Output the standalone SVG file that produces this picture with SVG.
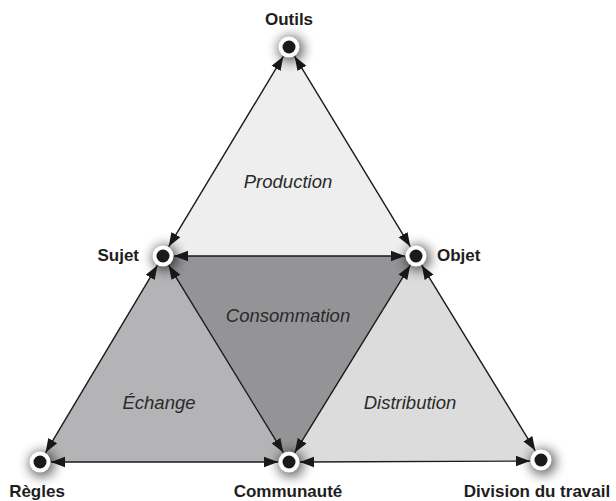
<svg xmlns="http://www.w3.org/2000/svg" width="616" height="501" viewBox="0 0 616 501">
<style>
.lbl{font-family:"Liberation Sans",Arial,sans-serif;font-weight:bold;font-size:17px;fill:#1e1e1e}
.it{font-family:"Liberation Sans",Arial,sans-serif;font-style:italic;font-size:18.5px;fill:#2a2a2a;text-anchor:middle}
.edge{stroke:#1a1a1a;stroke-width:1.4;fill:none;marker-start:url(#ah);marker-end:url(#ah)}
.ring{fill:#fff}
.dot{fill:#1a1a1a}
.sh{fill:#000;opacity:0.6;filter:url(#blur)}
</style>
<defs>
<marker id="ah" markerUnits="userSpaceOnUse" markerWidth="16" markerHeight="12" refX="14" refY="6" orient="auto-start-reverse">
<path d="M0,0.8 L14,6 L0,11.2 z" fill="#1a1a1a"/>
</marker>
<filter id="blur" x="-1.5" y="-1.5" width="4" height="4"><feGaussianBlur stdDeviation="6"/></filter>
</defs>
<rect width="616" height="501" fill="#fff"/>
<g id="faces">
<polygon points="289,47 163,256 416,256" fill="#eeeeef"/>
<polygon points="163,256 40,462 289,462" fill="#b4b4b6"/>
<polygon points="416,256 289,462 541,460" fill="#dcdcdd"/>
<polygon points="163,256 416,256 289,462" fill="#949497"/>
</g>
<g id="connectors">
<line class="edge" x1="283.3" y1="56.4" x2="168.7" y2="246.6"/>
<line class="edge" x1="294.7" y1="56.4" x2="410.3" y2="246.6"/>
<line class="edge" x1="174" y1="256" x2="405" y2="256"/>
<line class="edge" x1="157.4" y1="265.4" x2="45.6" y2="452.6"/>
<line class="edge" x1="168.7" y1="265.4" x2="283.3" y2="452.6"/>
<line class="edge" x1="410.2" y1="265.4" x2="294.8" y2="452.6"/>
<line class="edge" x1="421.8" y1="265.4" x2="535.2" y2="450.6"/>
<line class="edge" x1="51" y1="462" x2="278" y2="462"/>
<line class="edge" x1="300" y1="462" x2="530" y2="461"/>
</g>
<g id="labels-faces">
<text class="it" x="288" y="188">Production</text>
<text class="it" x="288" y="322">Consommation</text>
<text class="it" x="159" y="409">Échange</text>
<text class="it" x="410" y="409">Distribution</text>
</g>
<g id="outils">
<circle class="sh" cx="291" cy="49" r="13"/>
<circle class="ring" cx="289" cy="47" r="10.5"/>
<circle class="dot" cx="289" cy="47" r="6.5"/>
<text class="lbl" x="289" y="25" text-anchor="middle">Outils</text>
</g>
<g id="sujet">
<circle class="sh" cx="165" cy="258" r="13"/>
<circle class="ring" cx="163" cy="256" r="10.5"/>
<circle class="dot" cx="163" cy="256" r="6.5"/>
<text class="lbl" x="139" y="261" text-anchor="end">Sujet</text>
</g>
<g id="objet">
<circle class="sh" cx="418" cy="258" r="13"/>
<circle class="ring" cx="416" cy="256" r="10.5"/>
<circle class="dot" cx="416" cy="256" r="6.5"/>
<text class="lbl" x="437" y="261">Objet</text>
</g>
<g id="regles">
<circle class="sh" cx="42" cy="464" r="13"/>
<circle class="ring" cx="40" cy="462" r="10.5"/>
<circle class="dot" cx="40" cy="462" r="6.5"/>
<text class="lbl" x="37" y="497" text-anchor="middle">Règles</text>
</g>
<g id="communaute">
<circle class="sh" cx="291" cy="464" r="13"/>
<circle class="ring" cx="289" cy="462" r="10.5"/>
<circle class="dot" cx="289" cy="462" r="6.5"/>
<text class="lbl" x="288" y="497" text-anchor="middle">Communauté</text>
</g>
<g id="division">
<circle class="sh" cx="543" cy="462" r="13"/>
<circle class="ring" cx="541" cy="460" r="10.5"/>
<circle class="dot" cx="541" cy="460" r="6.5"/>
<text class="lbl" x="537" y="497" text-anchor="middle">Division du travail</text>
</g>
</svg>
